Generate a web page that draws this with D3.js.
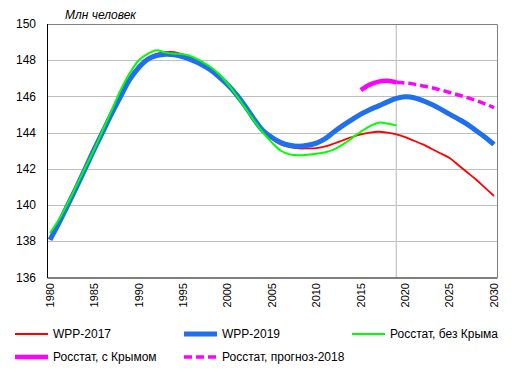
<!DOCTYPE html>
<html>
<head>
<meta charset="utf-8">
<script src="https://cdn.jsdelivr.net/npm/d3@7"></script>
<style>
  body { margin: 0; background: #fff; }
  text { font-family: Arial, "Liberation Sans", sans-serif; }
</style>
</head>
<body>
<div id="chart"></div>
<script>
const width = 512;
const height = 373;

// годы и значения, млн человек
const wpp2017Years = d3.range(1980, 2031);
const wpp2017 = [
  138.1, 139.0, 140.0, 141.0, 142.05, 143.1, 144.1, 145.1, 146.05, 146.95,
  147.65, 148.1, 148.35, 148.45, 148.45, 148.3, 148.1, 147.8, 147.5, 147.1,
  146.64, 146.1, 145.45, 144.73, 144.1, 143.65, 143.35, 143.2, 143.13, 143.13,
  143.15, 143.24, 143.4, 143.58, 143.76, 143.9, 144.0, 144.05, 144.0, 143.9,
  143.75, 143.55, 143.35, 143.1, 142.85, 142.6, 142.2, 141.8, 141.4, 140.95,
  140.5,
];

const wpp2019Years = d3.range(1980, 2031);
const wpp2019 = [
  138.08, 139.0, 140.0, 141.0, 142.05, 143.1, 144.1, 145.1, 146.05, 146.95,
  147.6, 148.05, 148.25, 148.33, 148.3, 148.18, 148.0, 147.78, 147.49, 147.1,
  146.64, 146.1, 145.45, 144.73, 144.1, 143.73, 143.45, 143.3, 143.25, 143.3,
  143.42, 143.67, 144.05, 144.4, 144.72, 145.02, 145.27, 145.48, 145.7, 145.89,
  145.98, 145.93, 145.76, 145.55, 145.3, 145.02, 144.75, 144.46, 144.1, 143.75,
  143.35,
];

const rosstatYears = d3.range(1980, 2020);
const rosstat = [
  138.45, 139.2, 140.1, 141.1, 142.1, 143.1, 144.2, 145.3, 146.4, 147.3,
  148.0, 148.35, 148.55, 148.42, 148.36, 148.33, 148.2, 147.95, 147.65, 147.25,
  146.7, 146.05, 145.35, 144.65, 144.0, 143.45, 143.0, 142.8, 142.75, 142.78,
  142.83, 142.92, 143.08, 143.35, 143.7, 144.05, 144.35, 144.55, 144.5, 144.4,
];

const crimeaYears = [2015, 2016, 2017, 2018, 2019];
const crimea = [146.35, 146.65, 146.82, 146.86, 146.78];

const forecastYears = d3.range(2019, 2031);
const forecast = [
  146.78, 146.74, 146.68, 146.58, 146.48, 146.36, 146.22, 146.08, 145.93,
  145.77, 145.59, 145.38,
];

const xTicks = d3.range(1980, 2031, 5);
const yTicks = [136, 138, 140, 142, 144, 146, 148, 150];

const series = [
  { name: "WPP-2017", years: wpp2017Years, values: wpp2017, color: "#ff0000", w: 1.8 },
  { name: "WPP-2019", years: wpp2019Years, values: wpp2019, color: "#1f6fef", w: 5 },
  { name: "Росстат, без Крыма", years: rosstatYears, values: rosstat, color: "#00ff00", w: 2 },
  { name: "Росстат, с Крымом", years: crimeaYears, values: crimea, color: "#ff00ff", w: 4.5 },
  { name: "Росстат, прогноз-2018", years: forecastYears, values: forecast, color: "#ff00ff", w: 3.5, dash: "8,4" },
];

const plot = { left: 47, right: 497, top: 24, bottom: 277.5 };

const svg = d3
  .select("#chart")
  .append("svg")
  .attr("width", width)
  .attr("height", height);

const x = d3.scaleLinear().domain([1980, 2030]).range([50, 494]);
const y = d3.scaleLinear().domain([136, 150]).range([plot.bottom, plot.top]);

// сетка
svg
  .append("g")
  .selectAll("line")
  .data(yTicks.filter((t) => t > 136 && t < 150))
  .join("line")
  .attr("x1", plot.left)
  .attr("x2", plot.right)
  .attr("y1", (d) => Math.round(y(d)) + 0.5)
  .attr("y2", (d) => Math.round(y(d)) + 0.5)
  .attr("stroke", "#bfbfbf");

svg
  .append("line")
  .attr("x1", x(2019))
  .attr("x2", x(2019))
  .attr("y1", plot.top)
  .attr("y2", plot.bottom)
  .attr("stroke", "#cccccc")
  .attr("stroke-width", 1.5);

// рамка
svg
  .append("path")
  .attr("d", `M${plot.left},${plot.top + 0.5}H${plot.right + 0.5}V${plot.bottom}`)
  .attr("fill", "none")
  .attr("stroke", "#808080");

svg
  .append("path")
  .attr("d", `M${plot.left + 0.5},${plot.top}V${plot.bottom + 0.5}H${plot.right + 0.5}`)
  .attr("fill", "none")
  .attr("stroke", "#000");

// подписи осей
svg
  .append("g")
  .selectAll("text")
  .data(yTicks)
  .join("text")
  .attr("x", 36)
  .attr("y", (d) => y(d))
  .attr("dy", "0.35em")
  .attr("text-anchor", "end")
  .attr("font-size", 12)
  .text((d) => d);

svg
  .append("g")
  .selectAll("text")
  .data(xTicks)
  .join("text")
  .attr("transform", (d) => `translate(${x(d)},283) rotate(-90)`)
  .attr("dy", "0.35em")
  .attr("text-anchor", "end")
  .attr("font-size", 11)
  .text((d) => d);

svg
  .append("text")
  .attr("x", 65)
  .attr("y", 19)
  .attr("font-size", 12)
  .attr("font-style", "italic")
  .text("Млн человек");

// линии
const line = d3
  .line()
  .x((d) => x(d[0]))
  .y((d) => y(d[1]))
  .curve(d3.curveCatmullRom);

svg
  .append("g")
  .selectAll("path")
  .data(series)
  .join("path")
  .attr("d", (s) => line(s.years.map((yr, i) => [yr, s.values[i]])))
  .attr("fill", "none")
  .attr("stroke", (s) => s.color)
  .attr("stroke-width", (s) => s.w)
  .attr("stroke-dasharray", (s) => s.dash || null)
  .attr("stroke-linejoin", "round");

// легенда
const legendPos = [
  [15, 334],
  [184, 334],
  [352, 334],
  [15, 357],
  [184, 357],
];

const legend = svg
  .append("g")
  .selectAll("g")
  .data(series)
  .join("g")
  .attr("transform", (s, i) => `translate(${legendPos[i][0]},${legendPos[i][1]})`);

legend
  .append("line")
  .attr("x1", 0)
  .attr("x2", 33)
  .attr("stroke", (s) => s.color)
  .attr("stroke-width", (s) => s.w)
  .attr("stroke-dasharray", (s) => s.dash || null);

legend
  .append("text")
  .attr("x", 38)
  .attr("dy", "0.35em")
  .attr("font-size", 12)
  .text((s) => s.name);
</script>
</body>
</html>
